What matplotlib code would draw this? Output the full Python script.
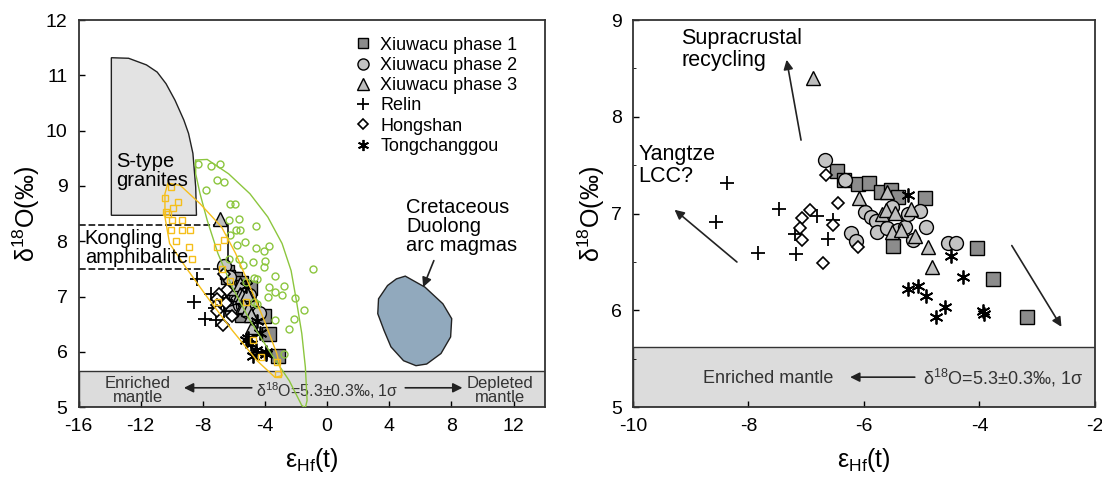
import numpy as np
import matplotlib
matplotlib.use("Agg")
import matplotlib.pyplot as plt
from matplotlib.ticker import MultipleLocator

plt.rcParams['font.family'] = ['Liberation Sans', 'DejaVu Sans']
plt.rcParams['mathtext.fontset'] = 'custom'
plt.rcParams['mathtext.rm'] = 'Liberation Sans'
plt.rcParams['axes.unicode_minus'] = False

# --- sample data (eHf(t), d18O) ---
p1_x = [-6.47, -6.35, -6.10, -5.92, -5.70, -5.53, -5.41, -4.95, -5.49, -4.05, -3.76, -3.18]
p1_y = [7.44, 7.35, 7.31, 7.32, 7.22, 7.24, 7.17, 7.16, 6.67, 6.64, 6.32, 5.93]
p2_x = [-6.67, -6.33, -5.99, -5.88, -5.80, -5.78, -6.22, -6.14, -5.60, -5.41, -5.29,
        -5.15, -5.03, -4.92, -4.55, -4.40, -5.23, -5.52]
p2_y = [7.55, 7.35, 7.02, 6.97, 6.92, 6.81, 6.80, 6.72, 6.85, 6.83, 6.86,
        6.73, 7.03, 6.86, 6.70, 6.70, 7.00, 7.07]
p3_x = [-6.89, -6.09, -5.60, -5.68, -5.62, -5.46, -5.18, -5.51, -5.36, -5.12, -4.89, -4.82]
p3_y = [8.40, 7.16, 7.22, 7.00, 7.04, 7.01, 7.05, 6.81, 6.83, 6.77, 6.66, 6.45]
relin_x = [-8.37, -8.57, -7.83, -7.47, -7.20, -7.17, -6.82, -6.62, -6.54]
relin_y = [7.32, 6.91, 6.59, 7.05, 6.79, 6.58, 6.98, 6.74, 6.93]
hong_x = [-6.65, -6.45, -6.93, -7.07, -7.10, -7.07, -6.54, -6.71, -6.10]
hong_y = [7.40, 7.11, 7.04, 6.96, 6.85, 6.73, 6.88, 6.49, 6.65]
tong_x = [-5.23, -4.50, -4.29, -5.24, -5.07, -4.93, -4.75, -4.60, -3.94, -3.92]
tong_y = [7.19, 6.56, 6.35, 6.22, 6.25, 6.15, 5.93, 6.03, 5.99, 5.96]

# literature data (left panel)
green_x = [-8.34, -7.45, -6.87, -7.10, -6.62, -7.77, -6.23, -5.93, -6.34, -5.70, -5.89,
           -5.61, -6.23, -5.31, -5.77, -4.55, -4.55, -4.05, -3.77, -6.34, -5.66, -5.43,
           -4.74, -4.00, -4.69, -4.51, -3.36, -2.78, -3.77, -3.36, -2.90, -3.82, -4.69,
           -4.51, -2.09, -1.52, -2.16, -2.44, -3.36, -0.94, -5.20, -4.09, -2.78]
green_y = [9.40, 9.36, 9.39, 9.10, 9.07, 8.93, 8.67, 8.68, 8.38, 8.40, 8.21,
           8.20, 8.11, 7.99, 7.93, 8.27, 7.88, 7.82, 7.91, 7.68, 7.68, 7.58,
           7.62, 7.64, 7.34, 7.32, 7.38, 7.20, 7.18, 7.08, 7.02, 7.00, 6.90,
           6.87, 6.97, 6.76, 6.60, 6.42, 6.57, 7.49, 7.26, 7.53, 5.96]
yellow_x = [-10.07, -10.44, -9.61, -9.95, -10.37, -9.33, -9.98, -10.02, -9.33, -8.80, -9.72,
            -8.87, -8.69, -7.08, -6.62, -6.76, -6.23, -7.00, -5.20, -4.74, -4.28, -3.24, -3.17, -10.25]
yellow_y = [8.99, 8.79, 8.71, 8.61, 8.53, 8.39, 8.39, 8.21, 8.21, 8.21, 8.00,
            7.90, 7.68, 7.90, 8.02, 7.50, 7.29, 6.90, 6.90, 6.21, 5.91, 5.81, 5.60, 8.50]

# field outlines
green_fx = [-8.46, -7.72, -6.34, -4.97, -3.82, -2.90, -2.32, -1.98, -1.63, -1.40, -1.29,
            -1.40, -1.63, -2.44, -3.59, -4.97, -6.11, -7.03, -7.72, -8.18, -8.46]
green_fy = [9.47, 9.48, 9.22, 8.86, 8.44, 7.96, 7.47, 6.93, 6.33, 5.72, 5.12,
            4.99, 5.03, 5.48, 5.96, 6.57, 7.17, 7.78, 8.38, 8.86, 9.22]
yellow_fx = [-10.25, -9.45, -8.18, -6.80, -5.89, -4.97, -4.05, -3.24, -2.90, -3.36,
             -4.51, -6.11, -7.72, -9.10, -10.14, -10.44, -10.44]
yellow_fy = [9.05, 9.01, 8.68, 8.26, 7.78, 7.18, 6.57, 5.97, 5.57, 5.54,
             5.84, 6.39, 6.99, 7.53, 7.96, 8.44, 8.86]
stype_x = [-13.89, -12.78, -11.63, -10.94, -10.37, -9.79, -9.22, -8.92, -8.64, -8.46, -8.41, -13.89]
stype_y = [11.32, 11.31, 11.19, 11.06, 10.85, 10.55, 10.19, 9.95, 9.59, 8.98, 8.47, 8.47]
duolong_x = [5.03, 6.30, 7.45, 8.02, 7.95, 7.33, 6.41, 5.72, 4.92, 4.11, 3.66, 3.26, 3.31, 3.89, 4.46]
duolong_y = [7.37, 7.17, 6.87, 6.60, 6.27, 5.97, 5.78, 5.75, 5.84, 6.09, 6.39, 6.69, 6.96, 7.20, 7.32]
kongling_x = [-16, -6.41]
kongling_y = [7.49, 8.29]
mantle_top_left = 5.65
mantle_top_right = 5.62

d18 = r'δ$^{\mathregular{18}}$O'
ylab = r'$\mathregular{\delta^{18}}$O(‰)'
xlab = r'$\mathregular{\varepsilon_{Hf}}$(t)'

fig = plt.figure(figsize=(11.02, 4.79), dpi=100)
ax1 = fig.add_axes([0.0713, 0.150, 0.4229, 0.808])
ax2 = fig.add_axes([0.5744, 0.150, 0.4192, 0.808])

series = [
    (p1_x, p1_y, dict(marker='s', ms=9.5, mfc='#8c8c8c', mec='k', mew=1.0), 'Xiuwacu phase 1'),
    (p2_x, p2_y, dict(marker='o', ms=10, mfc='#c4c4c4', mec='k', mew=1.0), 'Xiuwacu phase 2'),
    (p3_x, p3_y, dict(marker='^', ms=10, mfc='#bdbdbd', mec='k', mew=1.0), 'Xiuwacu phase 3'),
    (relin_x, relin_y, dict(marker='+', ms=10, mec='k', mew=1.3), 'Relin'),
    (hong_x, hong_y, dict(marker='D', ms=6.5, mfc='white', mec='k', mew=1.2), 'Hongshan'),
    (tong_x, tong_y, dict(marker=(6, 2, 0), ms=10, mec='k', mew=1.3), 'Tongchanggou'),
]

arrow = dict(arrowstyle='-|>', color='#222222', lw=1.2, mutation_scale=14, shrinkA=0, shrinkB=0)

# ---------- left panel ----------
ax = ax1
ax.axhspan(5, mantle_top_left, fc='#dcdcdc', ec='#333333', lw=1.0, zorder=0)
ax.fill(stype_x, stype_y, fc='#e3e3e3', ec='#222222', lw=1.0, zorder=1)
ax.fill(duolong_x, duolong_y, fc='#91a9bd', ec='#222222', lw=1.0, zorder=1)
ax.plot(kongling_x, [kongling_y[1]] * 2, ls='--', color='#222222', lw=1.3, zorder=1)
ax.plot(kongling_x, [kongling_y[0]] * 2, ls='--', color='#222222', lw=1.3, zorder=1)
ax.plot([kongling_x[1]] * 2, kongling_y, color='#222222', lw=1.3, zorder=1)

for xs, ys, st, lab in series:
    ax.plot(xs, ys, ls='none', label=lab, zorder=3, **st)

ax.fill(green_fx, green_fy, fc='none', ec='#8cc63e', lw=1.0, zorder=4)
ax.plot(green_x, green_y, ls='none', marker='o', ms=5, mfc='none', mec='#8cc63e', mew=1.0, zorder=4)
ax.fill(yellow_fx, yellow_fy, fc='none', ec='#f5bf1b', lw=1.0, zorder=4)
ax.plot(yellow_x, yellow_y, ls='none', marker='s', ms=5, mfc='none', mec='#f5bf1b', mew=1.0, zorder=4)

ax.text(-13.6, 9.27, 'S-type\ngranites', fontsize=14.5, va='center', ha='left', linespacing=1.0, zorder=5)
ax.text(-15.6, 7.88, 'Kongling\namphibalite', fontsize=14.5, va='center', ha='left', linespacing=1.0, zorder=5)
ax.text(5.1, 8.26, 'Cretaceous\nDuolong\narc magmas', fontsize=14.5, va='center', ha='left', linespacing=1.0)
ax.annotate('', xy=(6.18, 7.17), xytext=(6.87, 7.65), arrowprops=arrow)
ax.text(-12.2, 5.30, 'Enriched\nmantle', fontsize=12, ha='center', va='center', color='#333333', linespacing=0.95)
ax.text(11.1, 5.30, 'Depleted\nmantle', fontsize=12, ha='center', va='center', color='#333333', linespacing=0.95)
ax.text(0, 5.30, d18 + '=5.3±0.3‰, 1σ', fontsize=11.5, ha='center', va='center', color='#333333')
ax.annotate('', xy=(-9.22, 5.35), xytext=(-4.85, 5.35), arrowprops=arrow)
ax.annotate('', xy=(8.71, 5.35), xytext=(5.03, 5.35), arrowprops=arrow)

ax.set_xlim(-16, 14)
ax.set_ylim(5, 12)
ax.set_xticks(np.arange(-16, 13, 4))
ax.set_yticks(np.arange(5, 13, 1))
ax.legend(loc='upper left', bbox_to_anchor=(0.56, 0.99), frameon=False, fontsize=13,
          handletextpad=0.35, labelspacing=0.18, handlelength=1.2, borderpad=0.2, markerscale=0.8)

# ---------- right panel ----------
ax = ax2
ax.axhspan(5, mantle_top_right, fc='#dcdcdc', ec='#333333', lw=1.0, zorder=0)
for xs, ys, st, lab in series:
    ax.plot(xs, ys, ls='none', label=lab, zorder=3, **st)

ax.text(-9.16, 8.70, 'Supracrustal\nrecycling', fontsize=15.5, va='center', ha='left', linespacing=1.05)
ax.text(-9.91, 7.50, 'Yangtze\nLCC?', fontsize=15.5, va='center', ha='left', linespacing=1.05)
ax.annotate('', xy=(-7.34, 8.59), xytext=(-7.09, 7.76), arrowprops=arrow)
ax.annotate('', xy=(-9.28, 7.04), xytext=(-8.20, 6.50), arrowprops=arrow)
ax.annotate('', xy=(-2.58, 5.83), xytext=(-3.44, 6.67), arrowprops=arrow)
ax.text(-8.79, 5.30, 'Enriched mantle', fontsize=13, ha='left', va='center', color='#333333')
ax.text(-4.97, 5.30, d18 + '=5.3±0.3‰, 1σ', fontsize=13, ha='left', va='center', color='#333333')
ax.annotate('', xy=(-6.24, 5.31), xytext=(-5.12, 5.31), arrowprops=arrow)

ax.set_xlim(-10, -2)
ax.set_ylim(5, 9)
ax.set_xticks(np.arange(-10, -1, 2))
ax.set_yticks(np.arange(5, 10, 1))
ax.yaxis.set_minor_locator(MultipleLocator(0.5))

for ax in (ax1, ax2):
    ax.tick_params(direction='in', labelsize=14, length=4, width=1, pad=8)
    ax.tick_params(which='minor', direction='in', length=2.5)
    for sp in ax.spines.values():
        sp.set_linewidth(1.3)
        sp.set_color('#333333')
    ax.set_xlabel(xlab, fontsize=18, labelpad=8)
    ax.set_ylabel(ylab, fontsize=18, labelpad=3)

fig.savefig('out.png', dpi=100)
